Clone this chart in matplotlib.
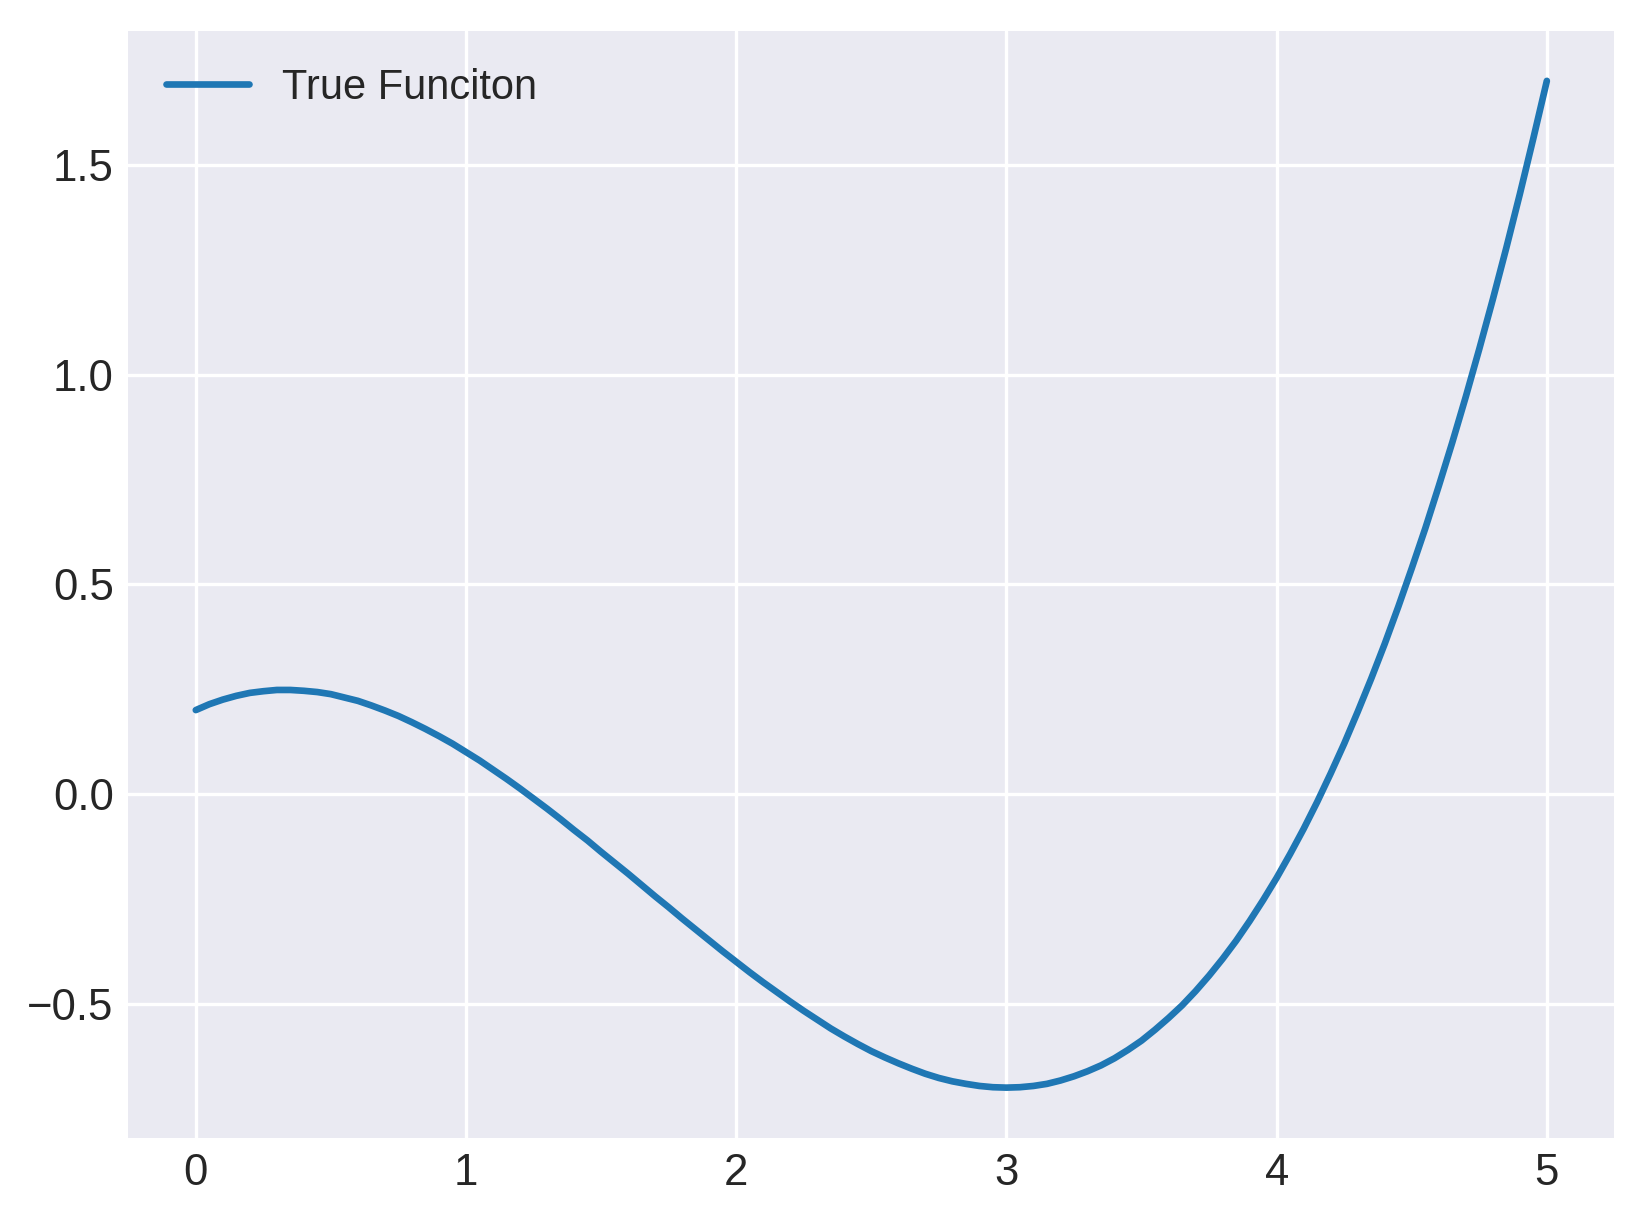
import matplotlib
matplotlib.use('Agg')
import matplotlib.pyplot as plt

# valores (passo 0.05)
x = [i * 0.05 for i in range(101)]
y = [0.200, 0.214, 0.225, 0.234, 0.241, 0.245, 0.248, 0.248, 0.246, 0.243,
     0.238, 0.230, 0.222, 0.211, 0.199, 0.186, 0.171, 0.155, 0.138, 0.120,
     0.100, 0.080, 0.058, 0.036, 0.013, -0.011, -0.035, -0.060, -0.086, -0.111,
     -0.138, -0.164, -0.190, -0.217, -0.244, -0.270, -0.297, -0.323, -0.349, -0.375,
     -0.400, -0.425, -0.449, -0.472, -0.495, -0.517, -0.538, -0.559, -0.578, -0.596,
     -0.613, -0.628, -0.642, -0.655, -0.667, -0.677, -0.685, -0.691, -0.696, -0.699,
     -0.700, -0.699, -0.696, -0.691, -0.683, -0.673, -0.661, -0.647, -0.630, -0.610,
     -0.588, -0.562, -0.534, -0.504, -0.470, -0.433, -0.393, -0.350, -0.303, -0.253,
     -0.200, -0.143, -0.083, -0.019, 0.049, 0.120, 0.196, 0.275, 0.358, 0.446,
     0.538, 0.633, 0.734, 0.838, 0.947, 1.061, 1.179, 1.302, 1.430, 1.563, 1.700]
rotulo = 'True Funciton'

plt.style.use('seaborn-v0_8-darkgrid')
plt.rcParams['font.family'] = ['Liberation Sans', 'DejaVu Sans']

fig, ax = plt.subplots(figsize=(5.48, 4.07), dpi=300)
fig.subplots_adjust(left=0.078, right=0.982, top=0.975, bottom=0.068)

ax.plot(x, y, color='#1f77b4', lw=1.6, label=rotulo)
ax.tick_params(labelsize=10.5)
ax.legend(loc='upper left', fontsize=10)

fig.savefig('out.png', dpi=300)
